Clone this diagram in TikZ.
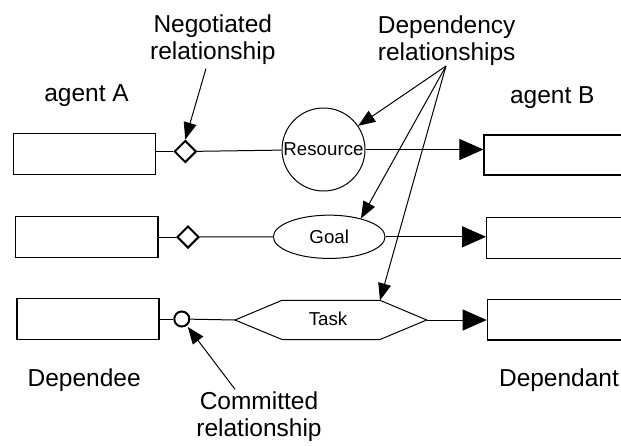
\documentclass[tikz,border=0pt]{standalone}
\usepackage{fontspec}
\setmainfont{Liberation Sans}
\usetikzlibrary{arrows.meta,shapes.geometric}
\begin{document}
\begin{tikzpicture}[x=1pt,y=-1pt,
  bigtri/.tip={Triangle[length=24pt,width=21pt]},
  smalltri/.tip={Triangle[length=17pt,width=13pt]},
  agentbox/.style={draw,line width=1.2pt,rectangle,inner sep=0pt},
  link/.style={line width=1pt},
  label/.style={font=\fontsize{24.5}{27}\selectfont,inner sep=0pt,align=center},
  inner/.style={font=\fontsize{18.7}{20}\selectfont},
  negotiated/.style={draw,diamond,aspect=1,line width=2pt,inner sep=0pt,minimum size=22pt},
  committed/.style={draw,circle,line width=2pt,inner sep=0pt,minimum size=15pt}]
\clip (0,0) rectangle (621,445);

% depender boxes (agent A)
\node[agentbox,minimum width=142pt,minimum height=41.5pt] (a1) at (84.3,154) {};
\node[agentbox,minimum width=142.3pt,minimum height=40.6pt] (a2) at (86.9,237) {};
\node[agentbox,minimum width=142pt,minimum height=40.6pt] (a3) at (88,319) {};

% dependee boxes (agent B), running off the right edge
\node[agentbox,minimum width=160pt,minimum height=40pt] (b1) at (564,155) {};
\node[agentbox,minimum width=160pt,minimum height=41pt] (b2) at (566.7,237.8) {};
\node[agentbox,minimum width=160pt,minimum height=40.7pt] (b3) at (567.3,319.7) {};

% relationship markers
\node[negotiated] (d1) at (185.3,151.5) {};
\node[negotiated] (d2) at (188,237) {};
\node[committed] (c3) at (181.8,319) {};

% dependums
\node[draw,circle,line width=1pt,inner sep=0pt,minimum size=83pt,inner] (res) at (323.5,149.5) {Resource};
\node[draw,ellipse,line width=1pt,inner sep=0pt,minimum width=111.7pt,minimum height=43.3pt,inner] (goal) at (329.2,236.8) {Goal};
\coordinate (tW) at (235,320);
\coordinate (tNW) at (282,300.3);
\coordinate (tNE) at (380,300.3);
\coordinate (tE) at (426.7,320);
\coordinate (tSE) at (380,339.5);
\coordinate (tSW) at (282,339.5);
\draw[line width=1pt] (tW) -- (tNW) -- (tNE) -- (tE) -- (tSE) -- (tSW) -- cycle;
\node[inner,inner sep=0pt] (task) at (328,318.5) {Task};

% row connectors
\draw[link] (a1.east |- d1) -- (d1);
\draw[link] (d1) -- (res);
\draw[link,-bigtri] (res.east) -- (b1.west |- res.east);
\draw[link] (a2.east |- d2) -- (d2);
\draw[link] (d2) -- (goal);
\draw[link,-bigtri] (goal.east) -- (b2.west |- goal.east);
\draw[link] (a3.east |- c3) -- (c3);
\draw[link] (c3) -- (tW);
\draw[link,-bigtri] (tE) -- (b3.west |- tE);

% labels
\node[label,anchor=base] (agA) at (86.5,101.7) {agent A};
\node[label,anchor=base] (agB) at (552.3,103.5) {agent B};
\node[label,anchor=base] (dee) at (84.2,386.7) {Dependee};
\node[label,anchor=base] (dant) at (559,386.7) {Dependant};
\node[label] (neg) at (212.8,39.4) {Negotiated\\relationship};
\node[label] (dep) at (446.7,40.4) {Dependency\\relationships};
\node[label] (com) at (259,417.1) {Committed\\relationship};

% callout arrows
\coordinate (negfrom) at (206,68.5);
\coordinate (depfrom) at (446,66);
\coordinate (comfrom) at (235,389.3);
\draw[link,-smalltri] (negfrom) -- (d1.north);
\draw[link,-smalltri] (depfrom) -- (res);
\draw[link,-smalltri] (depfrom) -- (goal.30);
\draw[link,-smalltri] (depfrom) -- (tNE);
\draw[link,-smalltri,shorten >=1.5pt] (comfrom) -- (c3);
\end{tikzpicture}
\end{document}
